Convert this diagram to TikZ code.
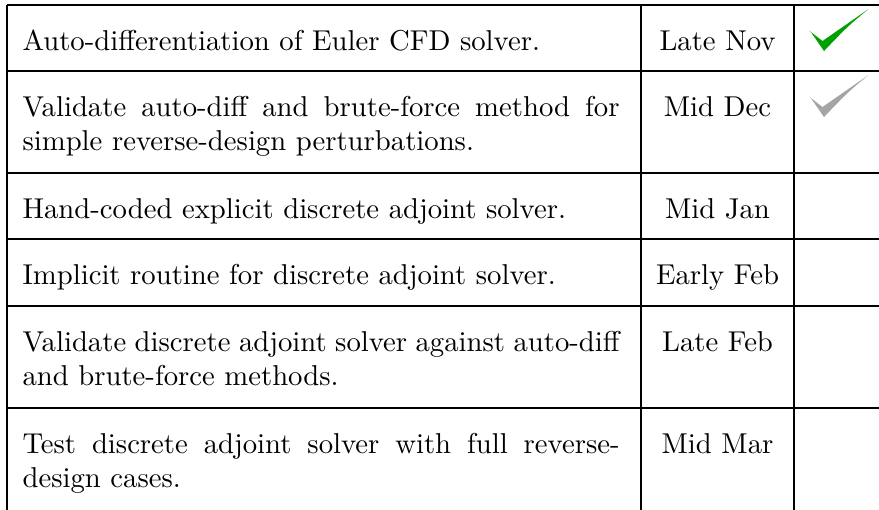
\documentclass[tikz,border=0pt]{standalone}
\usepackage{fontspec}
\definecolor{checkgreen}{RGB}{0,160,0}
\definecolor{checkgray}{RGB}{165,165,165}
\tikzset{
  rule/.style={line width=0.4pt,black},
  desc/.style={anchor=base west, inner sep=0pt, text width=208pt, align=justify, font=\fontsize{10}{12}\selectfont},
  datecell/.style={anchor=base, inner sep=0pt, font=\fontsize{10}{12}\selectfont},
  chk/.pic={\fill[#1] (0,0) -- (13.5,10.5) -- (59.5,-21.5) .. controls (39,-4.5) .. (15,20.5) -- (2.5,2.5) -- cycle;}
}
\begin{document}
\begin{tikzpicture}[x=0.3484pt,y=-0.3484pt]
\useasboundingbox (0,0) rectangle (879,509);
\clip (0,0) rectangle (879,509);
\fill[white] (0,0) rectangle (879,509);
% grid
\foreach \yy in {5,71,173,239,306,408} \draw[rule] (7,\yy) -- (890,\yy);
\foreach \xx in {7,641,794,885} \draw[rule] (\xx,5) -- (\xx,520);
% descriptions
\node[desc] (t1) at (22,50) {Auto-differentiation of Euler CFD solver.};
\node[desc] (t2) at (22,116.5) {Validate auto-diff and brute-force method for\linebreak simple reverse-design perturbations.};
\node[desc] (t3) at (22,218) {Hand-coded explicit discrete adjoint solver.};
\node[desc] (t4) at (22,284) {Implicit routine for discrete adjoint solver.};
\node[desc] (t5) at (22,351) {Validate discrete adjoint solver against auto-diff\linebreak and brute-force methods.};
\node[desc] (t6) at (22,453) {Test discrete adjoint solver with full reverse-\linebreak design cases.};
% dates
\node[datecell] (d1) at (717.5,50) {Late Nov};
\node[datecell] (d2) at (717.5,116.5) {Mid Dec};
\node[datecell] (d3) at (717.5,218) {Mid Jan};
\node[datecell] (d4) at (717.5,284) {Early Feb};
\node[datecell] (d5) at (717.5,351) {Late Feb};
\node[datecell] (d6) at (717.5,453) {Mid Mar};
% checks
\pic at (809,30.5) {chk=checkgreen};
\pic at (809,96.5) {chk=checkgray};
\end{tikzpicture}
\end{document}
